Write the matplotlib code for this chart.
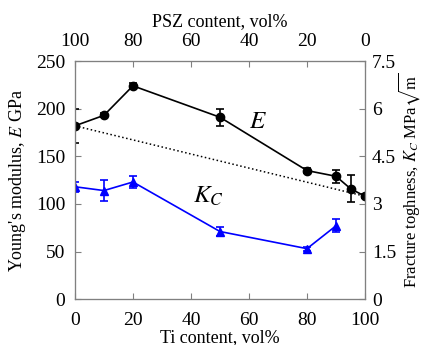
import matplotlib.pyplot as plt
import numpy as np

plt.rcParams['font.family'] = ['Liberation Serif', 'DejaVu Serif']
plt.rcParams['mathtext.fontset'] = 'stix'

# Young's modulus (GPa) vs Ti content
ti_e = [0, 10, 20, 50, 80, 90, 95, 100]
e_val = [182, 193, 224, 191, 135, 129, 116, 108]
e_err = [18, 2, 3, 9, 3, 7, 14, 2]

# fracture toughness (MPa sqrt(m)) vs Ti content
ti_k = [0, 10, 20, 50, 80, 90]
k_val = [3.54, 3.42, 3.69, 2.13, 1.59, 2.31]
k_err = [0.15, 0.33, 0.18, 0.15, 0.06, 0.21]

# rule-of-mixtures line
rom_x = [0, 100]
rom_y = [182, 108]

gray = '#808080'

fig = plt.figure(figsize=(4.21, 3.45), dpi=100)
ax = fig.add_axes([0.178, 0.133, 0.689, 0.690])

ax.plot(rom_x, rom_y, ':', color='black', lw=1.1)
ax.errorbar(ti_e, e_val, yerr=e_err, color='black', marker='o', ms=6,
            lw=1.2, capsize=3, elinewidth=1.2, capthick=1.2)

ax.set_xlim(0, 100)
ax.set_ylim(0, 250)
ax.set_xticks(np.arange(0, 101, 20))
ax.set_yticks(np.arange(0, 251, 50))
ax.set_xlabel('Ti content, vol%', fontsize=13, labelpad=0)
ax.set_ylabel("Young's modulus, $\\it{E}$ GPa", fontsize=13, labelpad=6)

ax2 = ax.twinx()
ax2.errorbar(ti_k, k_val, yerr=k_err, color='#0000ff', marker='^', ms=6,
             lw=1.2, capsize=3, elinewidth=1.2, capthick=1.2)
ax2.set_ylim(0, 7.5)
ax2.set_yticks([0, 1.5, 3, 4.5, 6, 7.5])
ax2.set_yticklabels(['0', '1.5', '3', '4.5', '6', '7.5'])
ax2.set_ylabel('Fracture toghness, $K_C$ MPa$\\sqrt{\\rm m}$', fontsize=12, labelpad=0)

ax3 = ax.twiny()
ax3.set_xlim(100, 0)
ax3.set_xticks(np.arange(0, 101, 20))
ax3.set_xlabel('PSZ content, vol%', fontsize=13, labelpad=5)

for a in (ax, ax2, ax3):
    for s in a.spines.values():
        s.set_color(gray)
    a.tick_params(direction='in', colors=gray, labelcolor='black',
                  labelsize=14, length=4)
ax.tick_params(axis='x', pad=9)
ax.tick_params(axis='y', pad=7)
ax2.tick_params(axis='y', pad=5)
ax3.tick_params(axis='x', pad=8)

ax.text(63, 186, '$E$', fontsize=18, ha='center', va='center')
ax.text(46, 108, '$K_C$', fontsize=18, ha='center', va='center')

fig.savefig('out.png', dpi=100)
